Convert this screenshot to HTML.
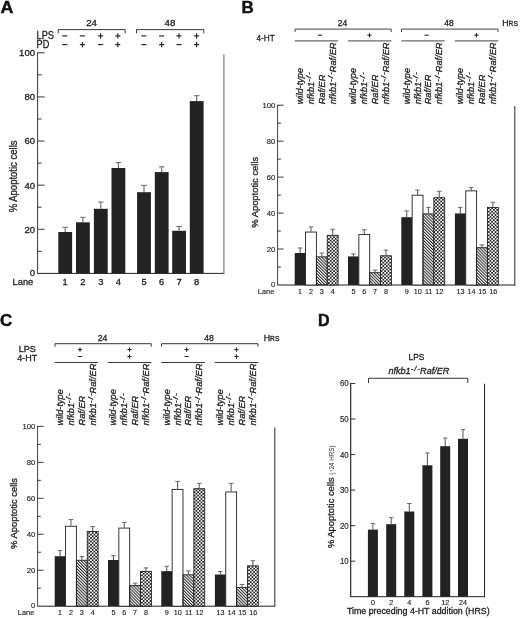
<!DOCTYPE html>
<html><head><meta charset="utf-8"><title>Figure</title>
<style>
html,body{margin:0;padding:0;background:#fff;}
svg{display:block;font-family:"Liberation Sans","DejaVu Sans",sans-serif;fill:#222;}
text{stroke:#222;stroke-width:0.3px;}
text.lt{stroke-width:0.14px;}
</style></head>
<body>
<svg width="520" height="618" viewBox="0 0 520 618">
<defs>
<pattern id="hatch" width="2.15" height="2.15" patternUnits="userSpaceOnUse" patternTransform="rotate(-45)">
<rect x="0" y="0" width="1.0" height="2.15" fill="#222"/>
</pattern>
<pattern id="check" width="3.4" height="3.4" patternUnits="userSpaceOnUse">
<rect x="0" y="0" width="3.4" height="3.4" fill="#222"/>
<rect x="0" y="0" width="1.7" height="1.7" fill="#fff"/>
<rect x="1.7" y="1.7" width="1.7" height="1.7" fill="#fff"/>
</pattern>
</defs>
<rect width="520" height="618" fill="#fff"/>
<text transform="translate(0.50,13.10) scale(1.09,1)" font-size="16.4" text-anchor="start" font-weight="bold" fill="#111" style="stroke:#111;stroke-width:0.45px">A</text>
<line x1="37.60" y1="52.40" x2="37.60" y2="273.80" stroke="#222" stroke-width="0.9"/>
<text transform="translate(35.10,275.81) scale(1.0,1)" font-size="9.6" text-anchor="end" >0</text>
<line x1="37.60" y1="251.34" x2="41.60" y2="251.34" stroke="#222" stroke-width="0.9"/>
<line x1="37.60" y1="229.28" x2="44.60" y2="229.28" stroke="#222" stroke-width="0.9"/>
<text transform="translate(35.10,232.69) scale(1.0,1)" font-size="9.6" text-anchor="end" >20</text>
<line x1="37.60" y1="207.22" x2="41.60" y2="207.22" stroke="#222" stroke-width="0.9"/>
<line x1="37.60" y1="185.16" x2="44.60" y2="185.16" stroke="#222" stroke-width="0.9"/>
<text transform="translate(35.10,188.57) scale(1.0,1)" font-size="9.6" text-anchor="end" >40</text>
<line x1="37.60" y1="163.10" x2="41.60" y2="163.10" stroke="#222" stroke-width="0.9"/>
<line x1="37.60" y1="141.04" x2="44.60" y2="141.04" stroke="#222" stroke-width="0.9"/>
<text transform="translate(35.10,144.45) scale(1.0,1)" font-size="9.6" text-anchor="end" >60</text>
<line x1="37.60" y1="118.98" x2="41.60" y2="118.98" stroke="#222" stroke-width="0.9"/>
<line x1="37.60" y1="96.92" x2="44.60" y2="96.92" stroke="#222" stroke-width="0.9"/>
<text transform="translate(35.10,100.33) scale(1.0,1)" font-size="9.6" text-anchor="end" >80</text>
<line x1="37.60" y1="74.86" x2="41.60" y2="74.86" stroke="#222" stroke-width="0.9"/>
<line x1="37.60" y1="52.80" x2="44.60" y2="52.80" stroke="#222" stroke-width="0.9"/>
<text transform="translate(35.10,56.21) scale(1.0,1)" font-size="9.6" text-anchor="end" >100</text>
<line x1="37.60" y1="273.40" x2="224.30" y2="273.40" stroke="#222" stroke-width="1.0"/>
<line x1="223.90" y1="54.00" x2="223.90" y2="273.80" stroke="#858585" stroke-width="1.3"/>
<text transform="translate(16.70,176.40) rotate(-90) scale(0.95,1)" font-size="10.0" text-anchor="middle" >% Apoptotic cells</text>
<line x1="65.20" y1="232.00" x2="65.20" y2="227.30" stroke="#5a5a5a" stroke-width="1.05"/>
<line x1="62.40" y1="227.30" x2="68.00" y2="227.30" stroke="#6a6a6a" stroke-width="1.0"/>
<rect x="58.30" y="232.00" width="13.80" height="41.40" fill="#222"/>
<text transform="translate(65.20,285.00) scale(1.0,1)" font-size="9.3" text-anchor="middle" >1</text>
<line x1="82.90" y1="222.30" x2="82.90" y2="217.30" stroke="#5a5a5a" stroke-width="1.05"/>
<line x1="80.10" y1="217.30" x2="85.70" y2="217.30" stroke="#6a6a6a" stroke-width="1.0"/>
<rect x="76.00" y="222.30" width="13.80" height="51.10" fill="#222"/>
<text transform="translate(82.90,285.00) scale(1.0,1)" font-size="9.3" text-anchor="middle" >2</text>
<line x1="100.80" y1="208.80" x2="100.80" y2="202.00" stroke="#5a5a5a" stroke-width="1.05"/>
<line x1="98.00" y1="202.00" x2="103.60" y2="202.00" stroke="#6a6a6a" stroke-width="1.0"/>
<rect x="93.90" y="208.80" width="13.80" height="64.60" fill="#222"/>
<text transform="translate(100.80,285.00) scale(1.0,1)" font-size="9.3" text-anchor="middle" >3</text>
<line x1="118.40" y1="168.00" x2="118.40" y2="162.60" stroke="#5a5a5a" stroke-width="1.05"/>
<line x1="115.60" y1="162.60" x2="121.20" y2="162.60" stroke="#6a6a6a" stroke-width="1.0"/>
<rect x="111.50" y="168.00" width="13.80" height="105.40" fill="#222"/>
<text transform="translate(118.40,285.00) scale(1.0,1)" font-size="9.3" text-anchor="middle" >4</text>
<line x1="144.00" y1="192.20" x2="144.00" y2="185.40" stroke="#5a5a5a" stroke-width="1.05"/>
<line x1="141.20" y1="185.40" x2="146.80" y2="185.40" stroke="#6a6a6a" stroke-width="1.0"/>
<rect x="137.10" y="192.20" width="13.80" height="81.20" fill="#222"/>
<text transform="translate(144.00,285.00) scale(1.0,1)" font-size="9.3" text-anchor="middle" >5</text>
<line x1="161.70" y1="172.10" x2="161.70" y2="166.80" stroke="#5a5a5a" stroke-width="1.05"/>
<line x1="158.90" y1="166.80" x2="164.50" y2="166.80" stroke="#6a6a6a" stroke-width="1.0"/>
<rect x="154.80" y="172.10" width="13.80" height="101.30" fill="#222"/>
<text transform="translate(161.70,285.00) scale(1.0,1)" font-size="9.3" text-anchor="middle" >6</text>
<line x1="179.10" y1="230.80" x2="179.10" y2="226.50" stroke="#5a5a5a" stroke-width="1.05"/>
<line x1="176.30" y1="226.50" x2="181.90" y2="226.50" stroke="#6a6a6a" stroke-width="1.0"/>
<rect x="172.20" y="230.80" width="13.80" height="42.60" fill="#222"/>
<text transform="translate(179.10,285.00) scale(1.0,1)" font-size="9.3" text-anchor="middle" >7</text>
<line x1="196.70" y1="101.10" x2="196.70" y2="95.70" stroke="#5a5a5a" stroke-width="1.05"/>
<line x1="193.90" y1="95.70" x2="199.50" y2="95.70" stroke="#6a6a6a" stroke-width="1.0"/>
<rect x="189.80" y="101.10" width="13.80" height="172.30" fill="#222"/>
<text transform="translate(196.70,285.00) scale(1.0,1)" font-size="9.3" text-anchor="middle" >8</text>
<text transform="translate(12.60,285.10) scale(0.95,1)" font-size="9.8" text-anchor="start" >Lane</text>
<path d="M58.20,33.30 V29.60 H125.20 V33.30" fill="none" stroke="#222" stroke-width="0.9"/>
<path d="M136.50,33.30 V29.60 H203.80 V33.30" fill="none" stroke="#222" stroke-width="0.9"/>
<text transform="translate(91.60,25.80) scale(1.0,1)" font-size="9.7" text-anchor="middle" >24</text>
<text transform="translate(169.90,25.80) scale(1.0,1)" font-size="9.7" text-anchor="middle" >48</text>
<text transform="translate(36.60,39.30) scale(0.89,1)" font-size="10.3" text-anchor="start" >LPS</text>
<text transform="translate(36.60,47.60) scale(0.89,1)" font-size="10.3" text-anchor="start" >PD</text>
<line x1="62.25" y1="35.90" x2="67.35" y2="35.90" stroke="#222" stroke-width="1.15"/>
<line x1="62.25" y1="44.60" x2="67.35" y2="44.60" stroke="#222" stroke-width="1.15"/>
<line x1="79.85" y1="35.90" x2="84.95" y2="35.90" stroke="#222" stroke-width="1.15"/>
<line x1="79.85" y1="44.60" x2="84.95" y2="44.60" stroke="#222" stroke-width="1.15"/>
<line x1="82.40" y1="42.05" x2="82.40" y2="47.15" stroke="#222" stroke-width="1.15"/>
<line x1="98.05" y1="35.90" x2="103.15" y2="35.90" stroke="#222" stroke-width="1.15"/>
<line x1="100.60" y1="33.35" x2="100.60" y2="38.45" stroke="#222" stroke-width="1.15"/>
<line x1="98.05" y1="44.60" x2="103.15" y2="44.60" stroke="#222" stroke-width="1.15"/>
<line x1="115.25" y1="35.90" x2="120.35" y2="35.90" stroke="#222" stroke-width="1.15"/>
<line x1="117.80" y1="33.35" x2="117.80" y2="38.45" stroke="#222" stroke-width="1.15"/>
<line x1="115.25" y1="44.60" x2="120.35" y2="44.60" stroke="#222" stroke-width="1.15"/>
<line x1="117.80" y1="42.05" x2="117.80" y2="47.15" stroke="#222" stroke-width="1.15"/>
<line x1="141.35" y1="35.90" x2="146.45" y2="35.90" stroke="#222" stroke-width="1.15"/>
<line x1="141.35" y1="44.60" x2="146.45" y2="44.60" stroke="#222" stroke-width="1.15"/>
<line x1="159.05" y1="35.90" x2="164.15" y2="35.90" stroke="#222" stroke-width="1.15"/>
<line x1="159.05" y1="44.60" x2="164.15" y2="44.60" stroke="#222" stroke-width="1.15"/>
<line x1="161.60" y1="42.05" x2="161.60" y2="47.15" stroke="#222" stroke-width="1.15"/>
<line x1="176.45" y1="35.90" x2="181.55" y2="35.90" stroke="#222" stroke-width="1.15"/>
<line x1="179.00" y1="33.35" x2="179.00" y2="38.45" stroke="#222" stroke-width="1.15"/>
<line x1="176.45" y1="44.60" x2="181.55" y2="44.60" stroke="#222" stroke-width="1.15"/>
<line x1="194.05" y1="35.90" x2="199.15" y2="35.90" stroke="#222" stroke-width="1.15"/>
<line x1="196.60" y1="33.35" x2="196.60" y2="38.45" stroke="#222" stroke-width="1.15"/>
<line x1="194.05" y1="44.60" x2="199.15" y2="44.60" stroke="#222" stroke-width="1.15"/>
<line x1="196.60" y1="42.05" x2="196.60" y2="47.15" stroke="#222" stroke-width="1.15"/>
<line x1="277.60" y1="104.80" x2="277.60" y2="285.40" stroke="#222" stroke-width="0.85"/>
<text transform="translate(275.30,286.88) scale(0.95,1)" font-size="8.1" text-anchor="end" class="lt">0</text>
<line x1="277.60" y1="267.02" x2="280.90" y2="267.02" stroke="#222" stroke-width="0.9"/>
<line x1="277.60" y1="249.04" x2="283.60" y2="249.04" stroke="#222" stroke-width="0.9"/>
<text transform="translate(275.30,251.92) scale(0.95,1)" font-size="8.1" text-anchor="end" class="lt">20</text>
<line x1="277.60" y1="231.06" x2="280.90" y2="231.06" stroke="#222" stroke-width="0.9"/>
<line x1="277.60" y1="213.08" x2="283.60" y2="213.08" stroke="#222" stroke-width="0.9"/>
<text transform="translate(275.30,215.96) scale(0.95,1)" font-size="8.1" text-anchor="end" class="lt">40</text>
<line x1="277.60" y1="195.10" x2="280.90" y2="195.10" stroke="#222" stroke-width="0.9"/>
<line x1="277.60" y1="177.12" x2="283.60" y2="177.12" stroke="#222" stroke-width="0.9"/>
<text transform="translate(275.30,180.00) scale(0.95,1)" font-size="8.1" text-anchor="end" class="lt">60</text>
<line x1="277.60" y1="159.14" x2="280.90" y2="159.14" stroke="#222" stroke-width="0.9"/>
<line x1="277.60" y1="141.16" x2="283.60" y2="141.16" stroke="#222" stroke-width="0.9"/>
<text transform="translate(275.30,144.04) scale(0.95,1)" font-size="8.1" text-anchor="end" class="lt">80</text>
<line x1="277.60" y1="123.18" x2="280.90" y2="123.18" stroke="#222" stroke-width="0.9"/>
<line x1="277.60" y1="105.20" x2="283.60" y2="105.20" stroke="#222" stroke-width="0.9"/>
<text transform="translate(275.30,108.08) scale(0.95,1)" font-size="8.1" text-anchor="end" class="lt">100</text>
<line x1="277.60" y1="285.00" x2="515.20" y2="285.00" stroke="#222" stroke-width="1.0"/>
<line x1="514.80" y1="106.00" x2="514.80" y2="285.40" stroke="#333" stroke-width="1.05"/>
<text transform="translate(257.50,192.30) rotate(-90) scale(0.95,1)" font-size="9.9" text-anchor="middle" >% Apoptotic cells</text>
<line x1="300.12" y1="253.00" x2="300.12" y2="247.96" stroke="#5a5a5a" stroke-width="1.05"/>
<line x1="297.82" y1="247.96" x2="302.43" y2="247.96" stroke="#6a6a6a" stroke-width="1.0"/>
<rect x="294.70" y="253.00" width="10.85" height="32.00" fill="#222"/>
<text transform="translate(300.12,293.90) scale(0.95,1)" font-size="7.6" text-anchor="middle" class="lt">1</text>
<text transform="translate(303.12,104.30) rotate(-90) scale(0.95,1)" font-size="9.7" text-anchor="start" font-style="italic">wild-type</text>
<line x1="310.98" y1="231.60" x2="310.98" y2="226.92" stroke="#5a5a5a" stroke-width="1.05"/>
<line x1="308.68" y1="226.92" x2="313.28" y2="226.92" stroke="#6a6a6a" stroke-width="1.0"/>
<rect x="305.55" y="232.05" width="10.85" height="52.95" fill="#fff" stroke="#222" stroke-width="0.9"/>
<text transform="translate(310.98,293.90) scale(0.95,1)" font-size="7.6" text-anchor="middle" class="lt">2</text>
<text transform="translate(313.98,104.30) rotate(-90) scale(0.95,1)" font-size="9.7" text-anchor="start" font-style="italic">nfkb1<tspan dy="-2.7" font-size="7.7" letter-spacing="1.4">-/</tspan><tspan font-size="7.7">-</tspan></text>
<line x1="321.82" y1="256.41" x2="321.82" y2="253.00" stroke="#5a5a5a" stroke-width="1.05"/>
<line x1="319.52" y1="253.00" x2="324.12" y2="253.00" stroke="#6a6a6a" stroke-width="1.0"/>
<rect x="316.40" y="256.86" width="10.85" height="28.14" fill="url(#hatch)" stroke="#222" stroke-width="0.9"/>
<text transform="translate(321.82,293.90) scale(0.95,1)" font-size="7.6" text-anchor="middle" class="lt">3</text>
<text transform="translate(324.82,104.30) rotate(-90) scale(0.95,1)" font-size="9.7" text-anchor="start" font-style="italic">Raf/ER</text>
<line x1="332.68" y1="234.84" x2="332.68" y2="229.26" stroke="#5a5a5a" stroke-width="1.05"/>
<line x1="330.38" y1="229.26" x2="334.98" y2="229.26" stroke="#6a6a6a" stroke-width="1.0"/>
<rect x="327.25" y="235.29" width="10.85" height="49.71" fill="url(#check)" stroke="#222" stroke-width="0.9"/>
<text transform="translate(332.68,293.90) scale(0.95,1)" font-size="7.6" text-anchor="middle" class="lt">4</text>
<text transform="translate(335.68,104.30) rotate(-90) scale(0.95,1)" font-size="9.7" text-anchor="start" font-style="italic">nfkb1<tspan dy="-2.7" font-size="7.7" letter-spacing="1.4">-/</tspan><tspan font-size="7.7">-</tspan><tspan dy="2.7">Raf/ER</tspan></text>
<line x1="353.43" y1="256.41" x2="353.43" y2="253.89" stroke="#5a5a5a" stroke-width="1.05"/>
<line x1="351.12" y1="253.89" x2="355.73" y2="253.89" stroke="#6a6a6a" stroke-width="1.0"/>
<rect x="348.00" y="256.41" width="10.85" height="28.59" fill="#222"/>
<text transform="translate(353.43,293.90) scale(0.95,1)" font-size="7.6" text-anchor="middle" class="lt">5</text>
<text transform="translate(356.43,104.30) rotate(-90) scale(0.95,1)" font-size="9.7" text-anchor="start" font-style="italic">wild-type</text>
<line x1="364.28" y1="234.12" x2="364.28" y2="229.80" stroke="#5a5a5a" stroke-width="1.05"/>
<line x1="361.98" y1="229.80" x2="366.58" y2="229.80" stroke="#6a6a6a" stroke-width="1.0"/>
<rect x="358.85" y="234.57" width="10.85" height="50.43" fill="#fff" stroke="#222" stroke-width="0.9"/>
<text transform="translate(364.28,293.90) scale(0.95,1)" font-size="7.6" text-anchor="middle" class="lt">6</text>
<text transform="translate(367.28,104.30) rotate(-90) scale(0.95,1)" font-size="9.7" text-anchor="start" font-style="italic">nfkb1<tspan dy="-2.7" font-size="7.7" letter-spacing="1.4">-/</tspan><tspan font-size="7.7">-</tspan></text>
<line x1="375.12" y1="272.23" x2="375.12" y2="270.08" stroke="#5a5a5a" stroke-width="1.05"/>
<line x1="372.82" y1="270.08" x2="377.43" y2="270.08" stroke="#6a6a6a" stroke-width="1.0"/>
<rect x="369.70" y="272.68" width="10.85" height="12.32" fill="url(#hatch)" stroke="#222" stroke-width="0.9"/>
<text transform="translate(375.12,293.90) scale(0.95,1)" font-size="7.6" text-anchor="middle" class="lt">7</text>
<text transform="translate(378.12,104.30) rotate(-90) scale(0.95,1)" font-size="9.7" text-anchor="start" font-style="italic">Raf/ER</text>
<line x1="385.98" y1="255.33" x2="385.98" y2="250.12" stroke="#5a5a5a" stroke-width="1.05"/>
<line x1="383.68" y1="250.12" x2="388.28" y2="250.12" stroke="#6a6a6a" stroke-width="1.0"/>
<rect x="380.55" y="255.78" width="10.85" height="29.22" fill="url(#check)" stroke="#222" stroke-width="0.9"/>
<text transform="translate(385.98,293.90) scale(0.95,1)" font-size="7.6" text-anchor="middle" class="lt">8</text>
<text transform="translate(388.98,104.30) rotate(-90) scale(0.95,1)" font-size="9.7" text-anchor="start" font-style="italic">nfkb1<tspan dy="-2.7" font-size="7.7" letter-spacing="1.4">-/</tspan><tspan font-size="7.7">-</tspan><tspan dy="2.7">Raf/ER</tspan></text>
<line x1="406.73" y1="217.22" x2="406.73" y2="210.92" stroke="#5a5a5a" stroke-width="1.05"/>
<line x1="404.43" y1="210.92" x2="409.03" y2="210.92" stroke="#6a6a6a" stroke-width="1.0"/>
<rect x="401.30" y="217.22" width="10.85" height="67.78" fill="#222"/>
<text transform="translate(406.73,293.90) scale(0.95,1)" font-size="7.6" text-anchor="middle" class="lt">9</text>
<text transform="translate(409.73,104.30) rotate(-90) scale(0.95,1)" font-size="9.7" text-anchor="start" font-style="italic">wild-type</text>
<line x1="417.58" y1="194.74" x2="417.58" y2="190.07" stroke="#5a5a5a" stroke-width="1.05"/>
<line x1="415.28" y1="190.07" x2="419.88" y2="190.07" stroke="#6a6a6a" stroke-width="1.0"/>
<rect x="412.15" y="195.19" width="10.85" height="89.81" fill="#fff" stroke="#222" stroke-width="0.9"/>
<text transform="translate(417.88,293.90) scale(0.95,1)" font-size="7.6" text-anchor="middle" class="lt">10</text>
<text transform="translate(420.58,104.30) rotate(-90) scale(0.95,1)" font-size="9.7" text-anchor="start" font-style="italic">nfkb1<tspan dy="-2.7" font-size="7.7" letter-spacing="1.4">-/</tspan><tspan font-size="7.7">-</tspan></text>
<line x1="428.43" y1="213.44" x2="428.43" y2="207.33" stroke="#5a5a5a" stroke-width="1.05"/>
<line x1="426.12" y1="207.33" x2="430.73" y2="207.33" stroke="#6a6a6a" stroke-width="1.0"/>
<rect x="423.00" y="213.89" width="10.85" height="71.11" fill="url(#hatch)" stroke="#222" stroke-width="0.9"/>
<text transform="translate(428.73,293.90) scale(0.95,1)" font-size="7.6" text-anchor="middle" class="lt">11</text>
<text transform="translate(431.43,104.30) rotate(-90) scale(0.95,1)" font-size="9.7" text-anchor="start" font-style="italic">Raf/ER</text>
<line x1="439.28" y1="197.26" x2="439.28" y2="191.32" stroke="#5a5a5a" stroke-width="1.05"/>
<line x1="436.98" y1="191.32" x2="441.58" y2="191.32" stroke="#6a6a6a" stroke-width="1.0"/>
<rect x="433.85" y="197.71" width="10.85" height="87.29" fill="url(#check)" stroke="#222" stroke-width="0.9"/>
<text transform="translate(439.58,293.90) scale(0.95,1)" font-size="7.6" text-anchor="middle" class="lt">12</text>
<text transform="translate(442.28,104.30) rotate(-90) scale(0.95,1)" font-size="9.7" text-anchor="start" font-style="italic">nfkb1<tspan dy="-2.7" font-size="7.7" letter-spacing="1.4">-/</tspan><tspan font-size="7.7">-</tspan><tspan dy="2.7">Raf/ER</tspan></text>
<line x1="460.32" y1="213.44" x2="460.32" y2="207.33" stroke="#5a5a5a" stroke-width="1.05"/>
<line x1="458.02" y1="207.33" x2="462.62" y2="207.33" stroke="#6a6a6a" stroke-width="1.0"/>
<rect x="454.90" y="213.44" width="10.85" height="71.56" fill="#222"/>
<text transform="translate(460.62,293.90) scale(0.95,1)" font-size="7.6" text-anchor="middle" class="lt">13</text>
<text transform="translate(463.32,104.30) rotate(-90) scale(0.95,1)" font-size="9.7" text-anchor="start" font-style="italic">wild-type</text>
<line x1="471.18" y1="190.43" x2="471.18" y2="187.55" stroke="#5a5a5a" stroke-width="1.05"/>
<line x1="468.88" y1="187.55" x2="473.48" y2="187.55" stroke="#6a6a6a" stroke-width="1.0"/>
<rect x="465.75" y="190.88" width="10.85" height="94.12" fill="#fff" stroke="#222" stroke-width="0.9"/>
<text transform="translate(471.48,293.90) scale(0.95,1)" font-size="7.6" text-anchor="middle" class="lt">14</text>
<text transform="translate(474.18,104.30) rotate(-90) scale(0.95,1)" font-size="9.7" text-anchor="start" font-style="italic">nfkb1<tspan dy="-2.7" font-size="7.7" letter-spacing="1.4">-/</tspan><tspan font-size="7.7">-</tspan></text>
<line x1="482.02" y1="247.24" x2="482.02" y2="244.90" stroke="#5a5a5a" stroke-width="1.05"/>
<line x1="479.72" y1="244.90" x2="484.32" y2="244.90" stroke="#6a6a6a" stroke-width="1.0"/>
<rect x="476.60" y="247.69" width="10.85" height="37.31" fill="url(#hatch)" stroke="#222" stroke-width="0.9"/>
<text transform="translate(482.32,293.90) scale(0.95,1)" font-size="7.6" text-anchor="middle" class="lt">15</text>
<text transform="translate(485.02,104.30) rotate(-90) scale(0.95,1)" font-size="9.7" text-anchor="start" font-style="italic">Raf/ER</text>
<line x1="492.88" y1="206.97" x2="492.88" y2="202.29" stroke="#5a5a5a" stroke-width="1.05"/>
<line x1="490.57" y1="202.29" x2="495.18" y2="202.29" stroke="#6a6a6a" stroke-width="1.0"/>
<rect x="487.45" y="207.42" width="10.85" height="77.58" fill="url(#check)" stroke="#222" stroke-width="0.9"/>
<text transform="translate(493.18,293.90) scale(0.95,1)" font-size="7.6" text-anchor="middle" class="lt">16</text>
<text transform="translate(495.88,104.30) rotate(-90) scale(0.95,1)" font-size="9.7" text-anchor="start" font-style="italic">nfkb1<tspan dy="-2.7" font-size="7.7" letter-spacing="1.4">-/</tspan><tspan font-size="7.7">-</tspan><tspan dy="2.7">Raf/ER</tspan></text>
<text transform="translate(257.80,293.90) scale(0.95,1)" font-size="7.8" text-anchor="start" class="lt">Lane</text>
<text transform="translate(241.50,13.20) scale(1.04,1)" font-size="16.3" text-anchor="start" font-weight="bold" fill="#111" style="stroke:#111;stroke-width:0.45px">B</text>
<path d="M295.00,32.00 V29.10 H391.20 V32.00" fill="none" stroke="#222" stroke-width="0.85"/>
<path d="M401.50,32.00 V29.10 H498.00 V32.00" fill="none" stroke="#222" stroke-width="0.85"/>
<text transform="translate(342.60,25.90) scale(0.95,1)" font-size="9.0" text-anchor="middle" >24</text>
<text transform="translate(449.10,25.90) scale(0.95,1)" font-size="9.0" text-anchor="middle" >48</text>
<text transform="translate(502.30,25.90) scale(0.95,1)" font-size="9.2" text-anchor="start" >H<tspan font-size="7.0">RS</tspan></text>
<text transform="translate(256.50,40.50) scale(0.95,1)" font-size="8.7" text-anchor="start" >4-HT</text>
<line x1="294.70" y1="40.90" x2="338.10" y2="40.90" stroke="#222" stroke-width="0.85"/>
<line x1="317.85" y1="35.20" x2="322.15" y2="35.20" stroke="#222" stroke-width="1.05"/>
<line x1="348.00" y1="40.90" x2="391.40" y2="40.90" stroke="#222" stroke-width="0.85"/>
<line x1="367.35" y1="35.20" x2="371.65" y2="35.20" stroke="#222" stroke-width="1.05"/>
<line x1="369.50" y1="33.05" x2="369.50" y2="37.35" stroke="#222" stroke-width="1.05"/>
<line x1="401.30" y1="40.90" x2="444.70" y2="40.90" stroke="#222" stroke-width="0.85"/>
<line x1="424.45" y1="35.20" x2="428.75" y2="35.20" stroke="#222" stroke-width="1.05"/>
<line x1="454.90" y1="40.90" x2="498.30" y2="40.90" stroke="#222" stroke-width="0.85"/>
<line x1="474.25" y1="35.20" x2="478.55" y2="35.20" stroke="#222" stroke-width="1.05"/>
<line x1="476.40" y1="33.05" x2="476.40" y2="37.35" stroke="#222" stroke-width="1.05"/>
<line x1="37.60" y1="426.00" x2="37.60" y2="606.60" stroke="#222" stroke-width="0.85"/>
<text transform="translate(35.30,608.08) scale(0.95,1)" font-size="8.1" text-anchor="end" class="lt">0</text>
<line x1="37.60" y1="588.22" x2="40.90" y2="588.22" stroke="#222" stroke-width="0.9"/>
<line x1="37.60" y1="570.24" x2="43.60" y2="570.24" stroke="#222" stroke-width="0.9"/>
<text transform="translate(35.30,573.12) scale(0.95,1)" font-size="8.1" text-anchor="end" class="lt">20</text>
<line x1="37.60" y1="552.26" x2="40.90" y2="552.26" stroke="#222" stroke-width="0.9"/>
<line x1="37.60" y1="534.28" x2="43.60" y2="534.28" stroke="#222" stroke-width="0.9"/>
<text transform="translate(35.30,537.16) scale(0.95,1)" font-size="8.1" text-anchor="end" class="lt">40</text>
<line x1="37.60" y1="516.30" x2="40.90" y2="516.30" stroke="#222" stroke-width="0.9"/>
<line x1="37.60" y1="498.32" x2="43.60" y2="498.32" stroke="#222" stroke-width="0.9"/>
<text transform="translate(35.30,501.20) scale(0.95,1)" font-size="8.1" text-anchor="end" class="lt">60</text>
<line x1="37.60" y1="480.34" x2="40.90" y2="480.34" stroke="#222" stroke-width="0.9"/>
<line x1="37.60" y1="462.36" x2="43.60" y2="462.36" stroke="#222" stroke-width="0.9"/>
<text transform="translate(35.30,465.24) scale(0.95,1)" font-size="8.1" text-anchor="end" class="lt">80</text>
<line x1="37.60" y1="444.38" x2="40.90" y2="444.38" stroke="#222" stroke-width="0.9"/>
<line x1="37.60" y1="426.40" x2="43.60" y2="426.40" stroke="#222" stroke-width="0.9"/>
<text transform="translate(35.30,429.28) scale(0.95,1)" font-size="8.1" text-anchor="end" class="lt">100</text>
<line x1="37.60" y1="606.20" x2="275.20" y2="606.20" stroke="#222" stroke-width="1.0"/>
<line x1="274.80" y1="427.20" x2="274.80" y2="606.60" stroke="#333" stroke-width="1.05"/>
<text transform="translate(16.80,513.50) rotate(-90) scale(0.95,1)" font-size="9.9" text-anchor="middle" >% Apoptotic cells</text>
<line x1="60.12" y1="556.22" x2="60.12" y2="550.46" stroke="#5a5a5a" stroke-width="1.05"/>
<line x1="57.82" y1="550.46" x2="62.42" y2="550.46" stroke="#6a6a6a" stroke-width="1.0"/>
<rect x="54.70" y="556.22" width="10.85" height="49.98" fill="#222"/>
<text transform="translate(60.12,615.10) scale(0.95,1)" font-size="7.6" text-anchor="middle" class="lt">1</text>
<text transform="translate(63.12,425.50) rotate(-90) scale(0.95,1)" font-size="9.7" text-anchor="start" font-style="italic">wild-type</text>
<line x1="70.98" y1="525.83" x2="70.98" y2="519.54" stroke="#5a5a5a" stroke-width="1.05"/>
<line x1="68.68" y1="519.54" x2="73.28" y2="519.54" stroke="#6a6a6a" stroke-width="1.0"/>
<rect x="65.55" y="526.28" width="10.85" height="79.92" fill="#fff" stroke="#222" stroke-width="0.9"/>
<text transform="translate(70.98,615.10) scale(0.95,1)" font-size="7.6" text-anchor="middle" class="lt">2</text>
<text transform="translate(73.98,425.50) rotate(-90) scale(0.95,1)" font-size="9.7" text-anchor="start" font-style="italic">nfkb1<tspan dy="-2.7" font-size="7.7" letter-spacing="1.4">-/</tspan><tspan font-size="7.7">-</tspan></text>
<line x1="81.82" y1="559.81" x2="81.82" y2="556.58" stroke="#5a5a5a" stroke-width="1.05"/>
<line x1="79.52" y1="556.58" x2="84.12" y2="556.58" stroke="#6a6a6a" stroke-width="1.0"/>
<rect x="76.40" y="560.26" width="10.85" height="45.94" fill="url(#hatch)" stroke="#222" stroke-width="0.9"/>
<text transform="translate(81.82,615.10) scale(0.95,1)" font-size="7.6" text-anchor="middle" class="lt">3</text>
<text transform="translate(84.82,425.50) rotate(-90) scale(0.95,1)" font-size="9.7" text-anchor="start" font-style="italic">Raf/ER</text>
<line x1="92.67" y1="531.04" x2="92.67" y2="526.55" stroke="#5a5a5a" stroke-width="1.05"/>
<line x1="90.38" y1="526.55" x2="94.97" y2="526.55" stroke="#6a6a6a" stroke-width="1.0"/>
<rect x="87.25" y="531.49" width="10.85" height="74.71" fill="url(#check)" stroke="#222" stroke-width="0.9"/>
<text transform="translate(92.67,615.10) scale(0.95,1)" font-size="7.6" text-anchor="middle" class="lt">4</text>
<text transform="translate(95.67,425.50) rotate(-90) scale(0.95,1)" font-size="9.7" text-anchor="start" font-style="italic">nfkb1<tspan dy="-2.7" font-size="7.7" letter-spacing="1.4">-/</tspan><tspan font-size="7.7">-</tspan><tspan dy="2.7">Raf/ER</tspan></text>
<line x1="113.42" y1="559.99" x2="113.42" y2="555.68" stroke="#5a5a5a" stroke-width="1.05"/>
<line x1="111.12" y1="555.68" x2="115.72" y2="555.68" stroke="#6a6a6a" stroke-width="1.0"/>
<rect x="108.00" y="559.99" width="10.85" height="46.21" fill="#222"/>
<text transform="translate(113.42,615.10) scale(0.95,1)" font-size="7.6" text-anchor="middle" class="lt">5</text>
<text transform="translate(116.42,425.50) rotate(-90) scale(0.95,1)" font-size="9.7" text-anchor="start" font-style="italic">wild-type</text>
<line x1="124.28" y1="527.63" x2="124.28" y2="522.41" stroke="#5a5a5a" stroke-width="1.05"/>
<line x1="121.98" y1="522.41" x2="126.58" y2="522.41" stroke="#6a6a6a" stroke-width="1.0"/>
<rect x="118.85" y="528.08" width="10.85" height="78.12" fill="#fff" stroke="#222" stroke-width="0.9"/>
<text transform="translate(124.28,615.10) scale(0.95,1)" font-size="7.6" text-anchor="middle" class="lt">6</text>
<text transform="translate(127.28,425.50) rotate(-90) scale(0.95,1)" font-size="9.7" text-anchor="start" font-style="italic">nfkb1<tspan dy="-2.7" font-size="7.7" letter-spacing="1.4">-/</tspan><tspan font-size="7.7">-</tspan></text>
<line x1="135.12" y1="585.16" x2="135.12" y2="583.19" stroke="#5a5a5a" stroke-width="1.05"/>
<line x1="132.82" y1="583.19" x2="137.43" y2="583.19" stroke="#6a6a6a" stroke-width="1.0"/>
<rect x="129.70" y="585.61" width="10.85" height="20.59" fill="url(#hatch)" stroke="#222" stroke-width="0.9"/>
<text transform="translate(135.12,615.10) scale(0.95,1)" font-size="7.6" text-anchor="middle" class="lt">7</text>
<text transform="translate(138.12,425.50) rotate(-90) scale(0.95,1)" font-size="9.7" text-anchor="start" font-style="italic">Raf/ER</text>
<line x1="145.98" y1="570.96" x2="145.98" y2="567.90" stroke="#5a5a5a" stroke-width="1.05"/>
<line x1="143.68" y1="567.90" x2="148.28" y2="567.90" stroke="#6a6a6a" stroke-width="1.0"/>
<rect x="140.55" y="571.41" width="10.85" height="34.79" fill="url(#check)" stroke="#222" stroke-width="0.9"/>
<text transform="translate(145.98,615.10) scale(0.95,1)" font-size="7.6" text-anchor="middle" class="lt">8</text>
<text transform="translate(148.98,425.50) rotate(-90) scale(0.95,1)" font-size="9.7" text-anchor="start" font-style="italic">nfkb1<tspan dy="-2.7" font-size="7.7" letter-spacing="1.4">-/</tspan><tspan font-size="7.7">-</tspan><tspan dy="2.7">Raf/ER</tspan></text>
<line x1="166.73" y1="571.14" x2="166.73" y2="566.28" stroke="#5a5a5a" stroke-width="1.05"/>
<line x1="164.43" y1="566.28" x2="169.03" y2="566.28" stroke="#6a6a6a" stroke-width="1.0"/>
<rect x="161.30" y="571.14" width="10.85" height="35.06" fill="#222"/>
<text transform="translate(166.73,615.10) scale(0.95,1)" font-size="7.6" text-anchor="middle" class="lt">9</text>
<text transform="translate(169.73,425.50) rotate(-90) scale(0.95,1)" font-size="9.7" text-anchor="start" font-style="italic">wild-type</text>
<line x1="177.58" y1="488.97" x2="177.58" y2="481.42" stroke="#5a5a5a" stroke-width="1.05"/>
<line x1="175.28" y1="481.42" x2="179.88" y2="481.42" stroke="#6a6a6a" stroke-width="1.0"/>
<rect x="172.15" y="489.42" width="10.85" height="116.78" fill="#fff" stroke="#222" stroke-width="0.9"/>
<text transform="translate(177.88,615.10) scale(0.95,1)" font-size="7.6" text-anchor="middle" class="lt">10</text>
<text transform="translate(180.58,425.50) rotate(-90) scale(0.95,1)" font-size="9.7" text-anchor="start" font-style="italic">nfkb1<tspan dy="-2.7" font-size="7.7" letter-spacing="1.4">-/</tspan><tspan font-size="7.7">-</tspan></text>
<line x1="188.43" y1="574.38" x2="188.43" y2="570.96" stroke="#5a5a5a" stroke-width="1.05"/>
<line x1="186.12" y1="570.96" x2="190.73" y2="570.96" stroke="#6a6a6a" stroke-width="1.0"/>
<rect x="183.00" y="574.83" width="10.85" height="31.37" fill="url(#hatch)" stroke="#222" stroke-width="0.9"/>
<text transform="translate(188.73,615.10) scale(0.95,1)" font-size="7.6" text-anchor="middle" class="lt">11</text>
<text transform="translate(191.43,425.50) rotate(-90) scale(0.95,1)" font-size="9.7" text-anchor="start" font-style="italic">Raf/ER</text>
<line x1="199.28" y1="488.25" x2="199.28" y2="483.40" stroke="#5a5a5a" stroke-width="1.05"/>
<line x1="196.98" y1="483.40" x2="201.58" y2="483.40" stroke="#6a6a6a" stroke-width="1.0"/>
<rect x="193.85" y="488.70" width="10.85" height="117.50" fill="url(#check)" stroke="#222" stroke-width="0.9"/>
<text transform="translate(199.58,615.10) scale(0.95,1)" font-size="7.6" text-anchor="middle" class="lt">12</text>
<text transform="translate(202.28,425.50) rotate(-90) scale(0.95,1)" font-size="9.7" text-anchor="start" font-style="italic">nfkb1<tspan dy="-2.7" font-size="7.7" letter-spacing="1.4">-/</tspan><tspan font-size="7.7">-</tspan><tspan dy="2.7">Raf/ER</tspan></text>
<line x1="220.32" y1="574.56" x2="220.32" y2="571.50" stroke="#5a5a5a" stroke-width="1.05"/>
<line x1="218.02" y1="571.50" x2="222.62" y2="571.50" stroke="#6a6a6a" stroke-width="1.0"/>
<rect x="214.90" y="574.56" width="10.85" height="31.64" fill="#222"/>
<text transform="translate(220.62,615.10) scale(0.95,1)" font-size="7.6" text-anchor="middle" class="lt">13</text>
<text transform="translate(223.32,425.50) rotate(-90) scale(0.95,1)" font-size="9.7" text-anchor="start" font-style="italic">wild-type</text>
<line x1="231.18" y1="491.49" x2="231.18" y2="483.40" stroke="#5a5a5a" stroke-width="1.05"/>
<line x1="228.88" y1="483.40" x2="233.48" y2="483.40" stroke="#6a6a6a" stroke-width="1.0"/>
<rect x="225.75" y="491.94" width="10.85" height="114.26" fill="#fff" stroke="#222" stroke-width="0.9"/>
<text transform="translate(231.48,615.10) scale(0.95,1)" font-size="7.6" text-anchor="middle" class="lt">14</text>
<text transform="translate(234.18,425.50) rotate(-90) scale(0.95,1)" font-size="9.7" text-anchor="start" font-style="italic">nfkb1<tspan dy="-2.7" font-size="7.7" letter-spacing="1.4">-/</tspan><tspan font-size="7.7">-</tspan></text>
<line x1="242.02" y1="586.96" x2="242.02" y2="584.44" stroke="#5a5a5a" stroke-width="1.05"/>
<line x1="239.72" y1="584.44" x2="244.32" y2="584.44" stroke="#6a6a6a" stroke-width="1.0"/>
<rect x="236.60" y="587.41" width="10.85" height="18.79" fill="url(#hatch)" stroke="#222" stroke-width="0.9"/>
<text transform="translate(242.32,615.10) scale(0.95,1)" font-size="7.6" text-anchor="middle" class="lt">15</text>
<text transform="translate(245.02,425.50) rotate(-90) scale(0.95,1)" font-size="9.7" text-anchor="start" font-style="italic">Raf/ER</text>
<line x1="252.88" y1="565.39" x2="252.88" y2="560.71" stroke="#5a5a5a" stroke-width="1.05"/>
<line x1="250.57" y1="560.71" x2="255.18" y2="560.71" stroke="#6a6a6a" stroke-width="1.0"/>
<rect x="247.45" y="565.84" width="10.85" height="40.36" fill="url(#check)" stroke="#222" stroke-width="0.9"/>
<text transform="translate(253.18,615.10) scale(0.95,1)" font-size="7.6" text-anchor="middle" class="lt">16</text>
<text transform="translate(255.88,425.50) rotate(-90) scale(0.95,1)" font-size="9.7" text-anchor="start" font-style="italic">nfkb1<tspan dy="-2.7" font-size="7.7" letter-spacing="1.4">-/</tspan><tspan font-size="7.7">-</tspan><tspan dy="2.7">Raf/ER</tspan></text>
<text transform="translate(17.80,615.10) scale(0.95,1)" font-size="7.8" text-anchor="start" class="lt">Lane</text>
<text transform="translate(0.00,326.30) scale(1.0,1)" font-size="16.9" text-anchor="start" font-weight="bold" fill="#111" style="stroke:#111;stroke-width:0.45px">C</text>
<path d="M55.00,346.70 V343.70 H151.20 V346.70" fill="none" stroke="#222" stroke-width="0.9"/>
<path d="M161.50,346.70 V343.70 H258.00 V346.70" fill="none" stroke="#222" stroke-width="0.9"/>
<text transform="translate(102.60,340.50) scale(0.95,1)" font-size="9.1" text-anchor="middle" >24</text>
<text transform="translate(209.10,340.50) scale(0.95,1)" font-size="9.1" text-anchor="middle" >48</text>
<text transform="translate(263.80,340.50) scale(0.95,1)" font-size="9.2" text-anchor="start" >H<tspan font-size="7.0">RS</tspan></text>
<text transform="translate(27.20,351.90) scale(1.0,1)" font-size="9.0" text-anchor="middle" >LPS</text>
<text transform="translate(27.20,360.50) scale(1.0,1)" font-size="9.0" text-anchor="middle" >4-HT</text>
<line x1="54.70" y1="362.50" x2="98.10" y2="362.50" stroke="#222" stroke-width="0.9"/>
<line x1="77.85" y1="349.60" x2="82.15" y2="349.60" stroke="#222" stroke-width="1.05"/>
<line x1="80.00" y1="347.45" x2="80.00" y2="351.75" stroke="#222" stroke-width="1.05"/>
<line x1="77.85" y1="356.50" x2="82.15" y2="356.50" stroke="#222" stroke-width="1.05"/>
<line x1="108.00" y1="362.50" x2="151.40" y2="362.50" stroke="#222" stroke-width="0.9"/>
<line x1="127.35" y1="349.60" x2="131.65" y2="349.60" stroke="#222" stroke-width="1.05"/>
<line x1="129.50" y1="347.45" x2="129.50" y2="351.75" stroke="#222" stroke-width="1.05"/>
<line x1="127.35" y1="356.50" x2="131.65" y2="356.50" stroke="#222" stroke-width="1.05"/>
<line x1="129.50" y1="354.35" x2="129.50" y2="358.65" stroke="#222" stroke-width="1.05"/>
<line x1="161.30" y1="362.50" x2="204.70" y2="362.50" stroke="#222" stroke-width="0.9"/>
<line x1="184.45" y1="349.60" x2="188.75" y2="349.60" stroke="#222" stroke-width="1.05"/>
<line x1="186.60" y1="347.45" x2="186.60" y2="351.75" stroke="#222" stroke-width="1.05"/>
<line x1="184.45" y1="356.50" x2="188.75" y2="356.50" stroke="#222" stroke-width="1.05"/>
<line x1="214.90" y1="362.50" x2="258.30" y2="362.50" stroke="#222" stroke-width="0.9"/>
<line x1="234.25" y1="349.60" x2="238.55" y2="349.60" stroke="#222" stroke-width="1.05"/>
<line x1="236.40" y1="347.45" x2="236.40" y2="351.75" stroke="#222" stroke-width="1.05"/>
<line x1="234.25" y1="356.50" x2="238.55" y2="356.50" stroke="#222" stroke-width="1.05"/>
<line x1="236.40" y1="354.35" x2="236.40" y2="358.65" stroke="#222" stroke-width="1.05"/>
<text transform="translate(318.00,326.00) scale(0.99,1)" font-size="16.2" text-anchor="start" font-weight="bold" fill="#111" style="stroke:#111;stroke-width:0.45px">D</text>
<line x1="350.70" y1="383.10" x2="350.70" y2="597.10" stroke="#222" stroke-width="1.15"/>
<line x1="350.70" y1="561.17" x2="355.30" y2="561.17" stroke="#222" stroke-width="0.9"/>
<text transform="translate(348.70,564.11) scale(0.95,1)" font-size="8.3" text-anchor="end" class="lt">10</text>
<line x1="350.70" y1="525.63" x2="355.30" y2="525.63" stroke="#222" stroke-width="0.9"/>
<text transform="translate(348.70,528.58) scale(0.95,1)" font-size="8.3" text-anchor="end" class="lt">20</text>
<line x1="350.70" y1="490.10" x2="355.30" y2="490.10" stroke="#222" stroke-width="0.9"/>
<text transform="translate(348.70,493.05) scale(0.95,1)" font-size="8.3" text-anchor="end" class="lt">30</text>
<line x1="350.70" y1="454.57" x2="355.30" y2="454.57" stroke="#222" stroke-width="0.9"/>
<text transform="translate(348.70,457.51) scale(0.95,1)" font-size="8.3" text-anchor="end" class="lt">40</text>
<line x1="350.70" y1="419.03" x2="355.30" y2="419.03" stroke="#222" stroke-width="0.9"/>
<text transform="translate(348.70,421.98) scale(0.95,1)" font-size="8.3" text-anchor="end" class="lt">50</text>
<line x1="350.70" y1="383.50" x2="355.30" y2="383.50" stroke="#222" stroke-width="0.9"/>
<text transform="translate(348.70,386.45) scale(0.95,1)" font-size="8.3" text-anchor="end" class="lt">60</text>
<line x1="350.70" y1="596.70" x2="484.90" y2="596.70" stroke="#222" stroke-width="1.0"/>
<line x1="484.50" y1="383.60" x2="484.50" y2="597.10" stroke="#222" stroke-width="1.05"/>
<path d="M368.50,383.10 V378.30 H467.80 V383.10" fill="none" stroke="#222" stroke-width="0.9"/>
<text transform="translate(416.50,360.20) scale(0.95,1)" font-size="8.8" text-anchor="middle" >LPS</text>
<text transform="translate(418.90,374.40) scale(0.99,1)" font-size="9.2" text-anchor="middle" font-style="italic">nfkb1<tspan dy="-3" font-size="7.6" letter-spacing="1.2">-/</tspan><tspan font-size="7.6">-</tspan><tspan dy="3">Raf/ER</tspan></text>
<line x1="372.90" y1="529.60" x2="372.90" y2="523.50" stroke="#5a5a5a" stroke-width="1.05"/>
<line x1="370.70" y1="523.50" x2="375.10" y2="523.50" stroke="#6a6a6a" stroke-width="1.0"/>
<rect x="367.90" y="529.60" width="10.00" height="67.10" fill="#222"/>
<text transform="translate(372.90,604.80) scale(0.95,1)" font-size="7.6" text-anchor="middle" class="lt">0</text>
<line x1="391.20" y1="524.20" x2="391.20" y2="517.70" stroke="#5a5a5a" stroke-width="1.05"/>
<line x1="389.00" y1="517.70" x2="393.40" y2="517.70" stroke="#6a6a6a" stroke-width="1.0"/>
<rect x="386.20" y="524.20" width="10.00" height="72.50" fill="#222"/>
<text transform="translate(391.20,604.80) scale(0.95,1)" font-size="7.6" text-anchor="middle" class="lt">2</text>
<line x1="409.30" y1="511.50" x2="409.30" y2="503.50" stroke="#5a5a5a" stroke-width="1.05"/>
<line x1="407.10" y1="503.50" x2="411.50" y2="503.50" stroke="#6a6a6a" stroke-width="1.0"/>
<rect x="404.30" y="511.50" width="10.00" height="85.20" fill="#222"/>
<text transform="translate(409.30,604.80) scale(0.95,1)" font-size="7.6" text-anchor="middle" class="lt">4</text>
<line x1="427.40" y1="465.30" x2="427.40" y2="453.00" stroke="#5a5a5a" stroke-width="1.05"/>
<line x1="425.20" y1="453.00" x2="429.60" y2="453.00" stroke="#6a6a6a" stroke-width="1.0"/>
<rect x="422.40" y="465.30" width="10.00" height="131.40" fill="#222"/>
<text transform="translate(427.40,604.80) scale(0.95,1)" font-size="7.6" text-anchor="middle" class="lt">6</text>
<line x1="445.20" y1="446.20" x2="445.20" y2="438.00" stroke="#5a5a5a" stroke-width="1.05"/>
<line x1="443.00" y1="438.00" x2="447.40" y2="438.00" stroke="#6a6a6a" stroke-width="1.0"/>
<rect x="440.20" y="446.20" width="10.00" height="150.50" fill="#222"/>
<text transform="translate(445.20,604.80) scale(0.95,1)" font-size="7.6" text-anchor="middle" class="lt">12</text>
<line x1="463.00" y1="438.80" x2="463.00" y2="429.60" stroke="#5a5a5a" stroke-width="1.05"/>
<line x1="460.80" y1="429.60" x2="465.20" y2="429.60" stroke="#6a6a6a" stroke-width="1.0"/>
<rect x="458.00" y="438.80" width="10.00" height="157.90" fill="#222"/>
<text transform="translate(463.00,604.80) scale(0.95,1)" font-size="7.6" text-anchor="middle" class="lt">24</text>
<text transform="translate(418.30,614.40) scale(0.95,1)" font-size="9.3" text-anchor="middle" >Time preceding 4-HT addition (HRS)</text>
<text transform="translate(334.40,548.00) rotate(-90) scale(0.95,1)" font-size="9.85" text-anchor="start" >% Apoptotic cells<tspan font-size="6.6" dx="2.8" dy="-0.6" style="stroke-width:0.05px" fill="#444">(↑24 HRS)</tspan></text>
</svg>
</body></html>
